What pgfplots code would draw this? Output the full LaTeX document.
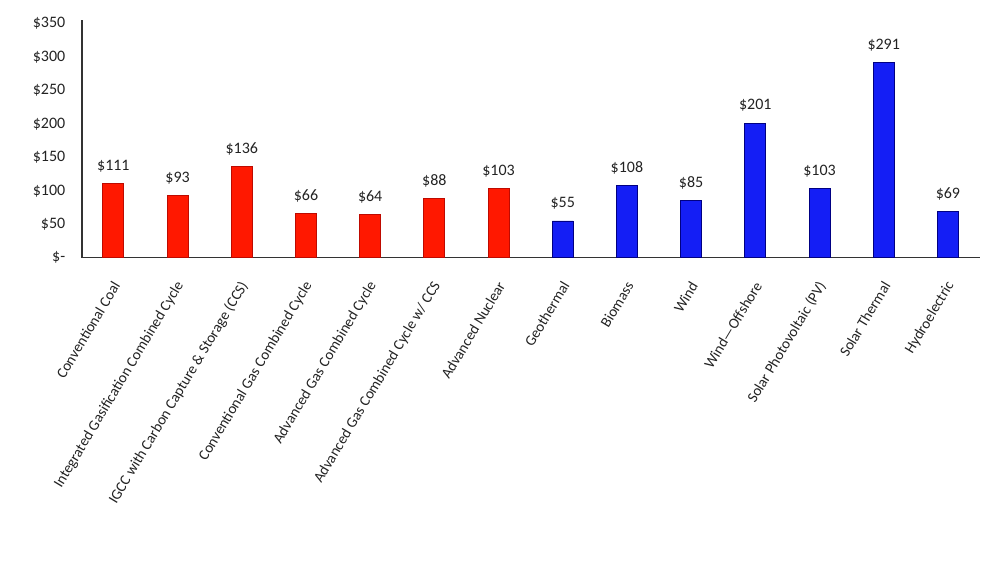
\documentclass[border=0pt]{standalone}
\usepackage{pgfplots}
\pgfplotsset{compat=1.18}
\usepackage{fontspec}
\setmainfont{Carlito}

\definecolor{barred}{RGB}{255,24,0}
\definecolor{barredline}{RGB}{190,10,0}
\definecolor{barblue}{RGB}{20,30,245}
\definecolor{barblueline}{RGB}{0,0,130}
\definecolor{txt}{RGB}{35,35,35}

\begin{document}
\begin{tikzpicture}
\begin{axis}[
    at={(0,0)}, anchor=south west,
    scale only axis,
    width=674.25pt, height=178.5pt,
    xmin=-0.49, xmax=13.5,
    ymin=0, ymax=355,
    axis x line=bottom,
    axis y line=left,
    axis line style={-, black!80, line width=0.9pt},
    major tick length=0pt,
    ytick={0,50,100,150,200,250,300,350},
    yticklabels={\$-,\$50,\$100,\$150,\$200,\$250,\$300,\$350},
    yticklabel style={font=\fontsize{12}{13}\selectfont, text=txt, xshift=-9pt},
    xtick={0,...,13},
    xticklabels={Conventional Coal,
                 Integrated Gasification Combined Cycle,
                 IGCC with Carbon Capture \& Storage (CCS),
                 Conventional Gas Combined Cycle,
                 Advanced Gas Combined Cycle,
                 Advanced Gas Combined Cycle w/ CCS,
                 Advanced Nuclear,
                 Geothermal,
                 Biomass,
                 Wind,
                 Wind---Offshore,
                 Solar Photovoltaic (PV),
                 Solar Thermal,
                 Hydroelectric},
    xticklabel style={font=\fontsize{11.2}{12}\selectfont, text=txt, xshift=4pt, yshift=-16pt, rotate=59, anchor=east},
    ybar, bar width=15.75pt, bar shift=0pt,
    /pgf/number format/assume math mode=true,
    nodes near coords={\$\pgfmathprintnumber{\pgfplotspointmeta}},
    nodes near coords style={font=\fontsize{12}{13}\selectfont, text=txt, yshift=5pt},
]
\addplot[fill=barred, draw=barredline, line width=0.6pt] coordinates {
    (0,111) (1,93) (2,136) (3,66) (4,64) (5,88) (6,103)
};
\addplot[fill=barblue, draw=barblueline, line width=0.6pt] coordinates {
    (7,55) (8,108) (9,85) (10,201) (11,103) (12,291) (13,69)
};
\end{axis}
\path[use as bounding box] (-61.5pt,-237pt) rectangle (683.25pt,193.5pt);
\end{tikzpicture}
\end{document}
